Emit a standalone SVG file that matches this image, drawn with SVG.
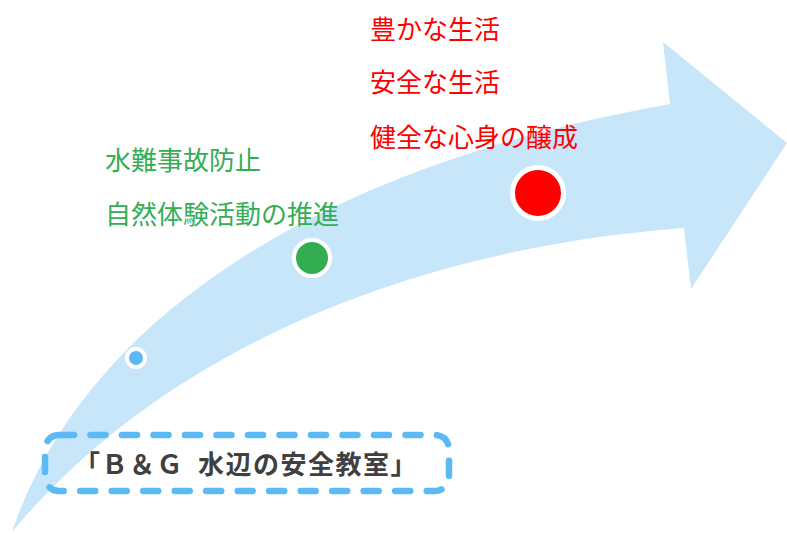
<svg xmlns="http://www.w3.org/2000/svg" width="787" height="534" viewBox="0 0 787 534">
<style>
.red{fill:#FF0000;font-family:"Noto Sans CJK JP","Noto Sans",sans-serif;font-size:26px}
.green{fill:#35AD55;font-family:"Noto Sans CJK JP","Noto Sans",sans-serif;font-size:26px}
.title{fill:#404040;font-family:"Noto Sans CJK JP","Noto Sans",sans-serif;font-size:26px;font-weight:bold;letter-spacing:1.5px}
.dot{stroke:#FFFFFF}
</style>
<rect width="787" height="534" fill="#FFFFFF"/>
<g id="arrow">
<path d="M12,532 C80,330 300,170 670,104 L663,42 L787,143 L691,289 L684,228 C450,245 180,330 12,532 Z" fill="#C7E6FA"/>
</g>
<g id="dot-blue"><circle class="dot" cx="136" cy="358" r="9" fill="#5BB9F6" stroke-width="4"/></g>
<g id="dot-green"><circle class="dot" cx="312" cy="258" r="18" fill="#33AD50" stroke-width="4"/></g>
<g id="dot-red"><circle class="dot" cx="538" cy="193" r="25.5" fill="#FF0000" stroke-width="5"/></g>
<g id="red-labels">
<text class="red" x="370" y="39">豊かな生活</text>
<text class="red" x="370" y="92">安全な生活</text>
<text class="red" x="370" y="147">健全な心身の醸成</text>
</g>
<g id="green-labels">
<text class="green" x="105" y="170">水難事故防止</text>
<text class="green" x="105" y="224">自然体験活動の推進</text>
</g>
<g id="title-box">
<rect x="45" y="435" width="404" height="56" rx="14" fill="none" stroke="#5BB9F6" stroke-width="6.5" stroke-linecap="round" stroke-dasharray="15 16.5"/>
<text class="title" y="474"><tspan x="74">「Ｂ＆Ｇ</tspan><tspan x="198">水辺の安全教室」</tspan></text>
</g>
</svg>
